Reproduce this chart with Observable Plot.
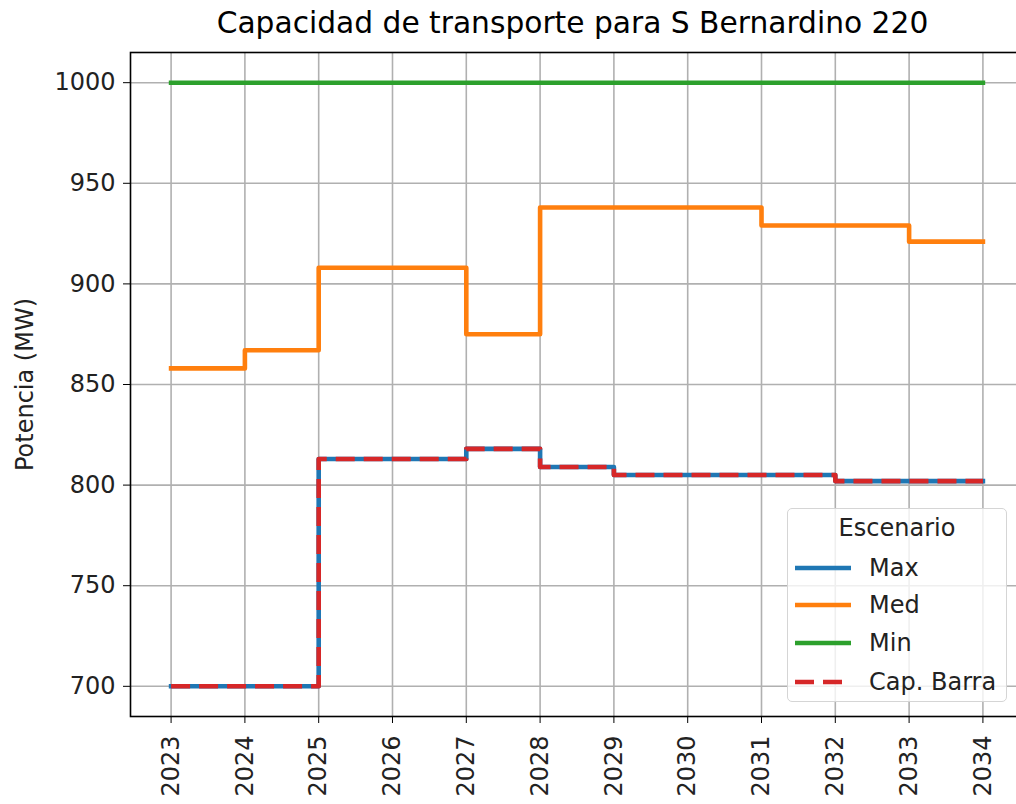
<!DOCTYPE html>
<html>
<head>
<meta charset="utf-8">
<script src="https://cdn.jsdelivr.net/npm/d3@7"></script>
<script src="https://cdn.jsdelivr.net/npm/@observablehq/plot@0.6"></script>
<style>
  html, body { margin: 0; padding: 0; background: #fff; overflow: hidden; }
  body { width: 1016px; height: 804px; position: relative; font-family: "DejaVu Sans", sans-serif; }
  #title { position: absolute; left: 126px; width: 893px; top: 5px; text-align: center; font-size: 29.7px; color: #000; white-space: nowrap; }
  #chart { position: absolute; left: 0; top: 50px; width: 1023px; }
  #legend { position: absolute; left: 787px; top: 508px; width: 220px; height: 194px; box-sizing: border-box;
            border: 1.5px solid #d5d5d5; border-radius: 5px; background: rgba(255,255,255,0.8); }
  #legend .ttl { position: absolute; left: 0; width: 100%; top: 5px; text-align: center; font-size: 24px; color: #222; }
  #legend .row { position: absolute; left: 5px; height: 30px; }
  #legend .row svg { position: absolute; left: 0; top: 0; }
  #legend .row span { position: absolute; left: 76px; top: 0px; font-size: 24px; line-height: 30px; color: #222; white-space: nowrap; }
</style>
</head>
<body>
<div id="title"></div>
<div id="chart"></div>
<div id="legend"></div>
<script>
const titleText = "Capacidad de transporte para S Bernardino 220";
const yLabel = "Potencia (MW)";
const legendTitle = "Escenario";
const years = [2023, 2024, 2025, 2026, 2027, 2028, 2029, 2030, 2031, 2032, 2033, 2034];
const maxVals = [700, 700, 813, 813, 818, 809, 805, 805, 805, 802, 802, 802];
const medVals = [858, 867, 908, 908, 875, 938, 938, 938, 929, 929, 921, 921];
const minVals = [1000, 1000, 1000, 1000, 1000, 1000, 1000, 1000, 1000, 1000, 1000, 1000];
const capBarraVals = [700, 700, 813, 813, 818, 809, 805, 805, 805, 802, 802, 802];
const seriesNames = ["Max", "Med", "Min", "Cap. Barra"];
const seriesColors = ["#1f77b4", "#ff7f0e", "#2ca02c", "#d62728"];
const seriesValues = [maxVals, medVals, minVals, capBarraVals];
const seriesDashed = [false, false, false, true];
const yTicks = [700, 750, 800, 850, 900, 950, 1000];

document.getElementById("title").textContent = titleText;

const lw = 4.6;
const dash = "19,9";

const lineMarks = seriesValues.map((vals, i) =>
  Plot.lineY(vals.map((v, j) => ({year: years[j], value: v})), {
    x: "year", y: "value", curve: "step-after",
    stroke: seriesColors[i], strokeWidth: lw,
    strokeDasharray: seriesDashed[i] ? dash : null,
    strokeLinecap: seriesDashed[i] ? "butt" : "square",
    strokeLinejoin: "round"
  })
);

const chart = Plot.plot({
  width: 1023,
  height: 754,
  marginLeft: 130,
  marginRight: 0,
  marginTop: 2,
  marginBottom: 88,
  style: {fontFamily: "DejaVu Sans", fontSize: "24px", color: "#222", background: "transparent", maxWidth: "none"},
  x: {domain: [2022.45, 2034.55]},
  y: {domain: [685, 1015]},
  marks: [
    Plot.gridX(years, {stroke: "#b0b0b0", strokeOpacity: 1, strokeWidth: 1.6}),
    Plot.gridY(yTicks, {stroke: "#b0b0b0", strokeOpacity: 1, strokeWidth: 1.6}),
    ...lineMarks,
    Plot.frame({stroke: "#000", strokeWidth: 1.6}),
    Plot.axisY(yTicks, {tickSize: 7, tickPadding: 8, tickFormat: d => String(d), stroke: "#000",
      label: yLabel, labelAnchor: "center", labelArrow: "none", labelOffset: 115, fill: "#222"}),
    Plot.axisX(years, {tickSize: 7, tickPadding: 12, tickRotate: -90, tickFormat: d => String(d),
      stroke: "#000", label: null, fill: "#222"})
  ]
});
chart.style.maxWidth = "none";
document.getElementById("chart").appendChild(chart);

// Legend built from the series arrays
const legend = document.getElementById("legend");
const t = document.createElement("div");
t.className = "ttl";
t.textContent = legendTitle;
legend.appendChild(t);
const rowTops = [44, 81, 119, 158];
seriesNames.forEach((name, i) => {
  const row = document.createElement("div");
  row.className = "row";
  row.style.top = rowTops[i] + "px";
  const svg = d3.create("svg").attr("width", 62).attr("height", 30);
  svg.append("line").attr("x1", 2).attr("x2", 58).attr("y1", 15).attr("y2", 15)
    .attr("stroke", seriesColors[i]).attr("stroke-width", lw)
    .attr("stroke-dasharray", seriesDashed[i] ? dash : null)
    .attr("stroke-linecap", "butt");
  row.appendChild(svg.node());
  const sp = document.createElement("span");
  sp.textContent = name;
  row.appendChild(sp);
  legend.appendChild(row);
});
</script>
</body>
</html>
